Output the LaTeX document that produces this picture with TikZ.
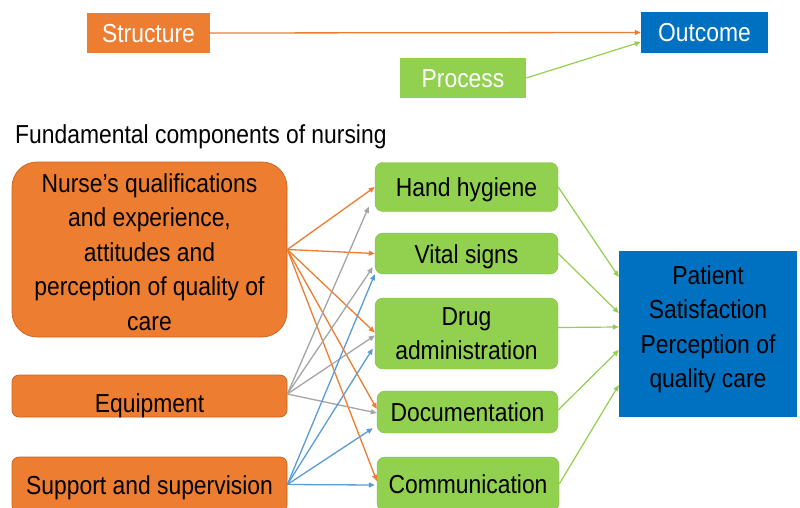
\documentclass[tikz,border=0pt]{standalone}
\usepackage{fontspec}
\setmainfont{Liberation Sans}[FakeStretch=0.88]
\usetikzlibrary{arrows.meta,calc}
\definecolor{orB}{HTML}{ED7D31}
\definecolor{grB}{HTML}{92D050}
\definecolor{blB}{HTML}{0070C0}
\definecolor{grayA}{HTML}{A5A5A5}
\definecolor{blA}{HTML}{5B9BD5}
\definecolor{orEdge}{HTML}{C9641F}
\begin{document}
\begin{tikzpicture}[x=1pt,y=-1pt,
  txt/.style={font=\fontsize{26}{34.5}\selectfont},
  capline/.style={text height=19pt, text depth=0pt},
  box/.style={txt, inner sep=0pt, align=center, anchor=center},
  obox/.style={box, fill=orB, draw=orEdge, line width=0.7pt},
  gbox/.style={box, fill=grB, draw=grB!90!black, line width=0.4pt, rounded corners=8pt},
  topbox/.style={box, capline, text=white},
  tip/.style={-{Triangle[length=6pt,width=5pt]}},
  oarr/.style={tip, draw=orB, line width=1.3pt},
  garr/.style={tip, draw=grayA, line width=1.3pt},
  barr/.style={tip, draw=blA, line width=1.3pt},
  grarr/.style={tip, draw=grB, line width=1.2pt},
]
\useasboundingbox (0,0) rectangle (800,508);
\fill[white] (0,0) rectangle (800,508);

% top row
\node[topbox, fill=orB, minimum width=123pt, minimum height=40pt] (struct) at (148.5,33) {Structure};
\node[topbox, fill=blB, minimum width=127pt, minimum height=41pt] (outc) at (704.5,32.5) {Outcome};
\node[topbox, fill=grB, minimum width=126pt, minimum height=40pt] (proc) at (463,78) {Process};
\draw[oarr] (struct.east) -- (outc.west);
\draw[grarr] (proc.east) -- ($(outc.west)+(0,9.5)$);

\node[txt, anchor=base west, inner sep=0pt] (title) at (15,143) {Fundamental components of nursing};

% left column
\node[obox, minimum width=275pt, minimum height=175pt, rounded corners=25pt,
  label={[txt, align=center, inner sep=0pt, yshift=-2.5pt]center:{Nurse’s qualifications\\and experience,\\attitudes and\\perception of quality of\\care}}] (nurse) at (149.5,249.5) {};
\node[obox, minimum width=275pt, minimum height=42pt, rounded corners=7pt,
  label={[txt, capline, inner sep=0pt, yshift=-6.5pt]center:Equipment}] (equip) at (149.5,396) {};
\node[obox, capline, minimum width=275pt, minimum height=55pt, rounded corners=7pt] (supp) at (149.5,484.5) {Support and supervision};

% middle column
\node[gbox, capline, minimum width=183pt, minimum height=49pt] (hh) at (466.5,187) {Hand hygiene};
\node[gbox, capline, minimum width=183pt, minimum height=41pt] (vs) at (466.5,253.5) {Vital signs};
\node[gbox, minimum width=183pt, minimum height=71pt] (drug) at (466.5,333.5) {Drug\\administration};
\node[gbox, capline, minimum width=181pt, minimum height=42pt] (doc) at (467.5,412) {Documentation};
\node[gbox, capline, minimum width=182pt, minimum height=54pt] (comm) at (468,484) {Communication};

% right
\node[box, fill=blB, minimum width=178pt, minimum height=166pt,
  label={[txt, align=center, inner sep=0pt, yshift=4.5pt]center:{Patient\\Satisfaction\\Perception of\\quality care}}] (pat) at (708,334) {};

% nurse arrows
\draw[oarr] (nurse.east) -- (hh.west);
\draw[oarr] (nurse.east) -- (vs.west);
\draw[oarr] (nurse.east) -- ($(drug.west)+(0,-1)$);
\draw[oarr] (nurse.east) -- ($(doc.west)+(0,-3)$);
\draw[oarr] (nurse.east) -- ($(comm.west)+(0,-3)$);

% equipment arrows
\draw[garr] ($(equip.east)+(0,-2)$) -- ($(hh.south west)+(-6,-5)$);
\draw[garr] ($(equip.east)+(0,-2)$) -- ($(vs.south west)+(-2,-7)$);
\draw[garr] ($(equip.east)+(0,-2)$) -- ($(drug.west)+(0,2)$);
\draw[garr] ($(equip.east)+(0,-2)$) -- ($(doc.west)+(0,1)$);

% support arrows
\draw[barr] (supp.east) -- (vs.south west);
\draw[barr] (supp.east) -- ($(drug.west)+(-2,15)$);
\draw[barr] (supp.east) -- ($(doc.south west)+(-4,-5)$);
\draw[barr] (supp.east) -- ($(comm.west)+(-2,1)$);

% to patient
\draw[grarr] (hh.east) -- ($(pat.west)+(0,-57)$);
\draw[grarr] (vs.east) -- ($(pat.west)+(0,-21)$);
\draw[grarr] ($(drug.east)+(0,-6)$) -- ($(pat.west)+(0,-7)$);
\draw[grarr] ($(doc.east)+(0,-2)$) -- ($(pat.west)+(0,16)$);
\draw[grarr] (comm.east) -- ($(pat.west)+(0,51)$);
\end{tikzpicture}
\end{document}
